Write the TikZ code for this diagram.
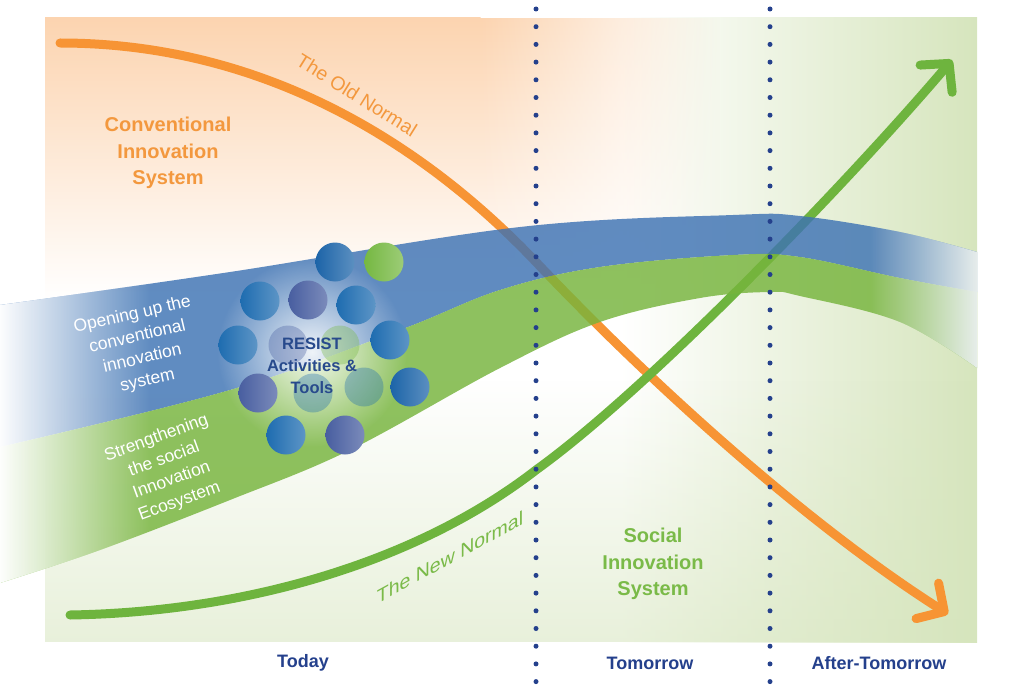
\documentclass[tikz,border=0pt]{standalone}
\usepackage{fontspec}
\setmainfont{Liberation Sans}
\usetikzlibrary{arrows.meta,fadings}

\definecolor{peach}{RGB}{252,212,176}
\definecolor{bgGreen}{RGB}{214,229,189}
\definecolor{bgEnd}{RGB}{232,238,236}
\definecolor{oldOrange}{RGB}{247,148,52}
\definecolor{txtOrange}{RGB}{243,152,62}
\definecolor{newGreen}{RGB}{110,180,62}
\definecolor{txtGreen}{RGB}{122,186,72}
\definecolor{bandBlue}{RGB}{62,115,180}
\definecolor{bandGreen}{RGB}{118,180,60}
\definecolor{navy}{RGB}{36,64,140}
\definecolor{resistBlue}{RGB}{40,74,140}
\definecolor{ballBlue}{RGB}{30,108,176}
\definecolor{ballDark}{RGB}{28,100,168}
\definecolor{ballSlate}{RGB}{72,94,160}
\definecolor{ballGreen}{RGB}{118,184,66}

\tikzfading[name=fadeRight, left color=transparent!0, right color=transparent!100]
\tikzfading[name=fadeLeft, left color=transparent!100, right color=transparent!0]
\tikzfading[name=fadeDown, top color=transparent!100, bottom color=transparent!45]
\tikzfading[name=haloFade, inner color=transparent!10, outer color=transparent!100]

\tikzset{
  oldTrend/.style={draw=oldOrange, line width=9pt, line cap=round,
                   -{Straight Barb[length=20pt,width=42pt,round]}},
  newTrend/.style={draw=newGreen, line width=9pt, line cap=round,
                   -{Straight Barb[length=20pt,width=42pt,round]}},
  band/.style={opacity=0.82},
  ball/.style={circle, inner sep=0pt, minimum size=39pt,
               left color=#1, right color=#1!72!white},
  faintBall/.style={circle, inner sep=0pt, minimum size=39pt,
                    fill=#1, fill opacity=0.35},
  sysLabel/.style={font=\fontsize{20}{26.5}\selectfont\bfseries, align=center},
  bandLabel/.style={font=\fontsize{17.5}{22.5}\selectfont, text=white, align=center},
  trendLabel/.style={font=\fontsize{19.5}{24}\selectfont},
  resistLabel/.style={font=\fontsize{16.5}{22}\selectfont\bfseries, text=resistBlue, align=center},
  timeLabel/.style={font=\fontsize{18}{22}\selectfont\bfseries, text=navy},
  divider/.style={draw=navy, line width=5pt, line cap=round, dash pattern=on 0pt off 17.7pt}
}

\begin{document}
\begin{tikzpicture}[x=1pt,y=-1pt]
\useasboundingbox (0,0) rectangle (1024,695);

% Background panel
\fill[white] (45,18) rectangle (977,642);
\shade[left color=white, right color=bgGreen] (620,18) rectangle (977,642);
\fill[bgGreen, path fading=fadeDown] (45,380) rectangle (977,642);
\shade[top color=peach, bottom color=white] (45,18) rectangle (480.5,300);
\shade[top color=peach, bottom color=white, path fading=fadeRight] (480,18) rectangle (720,300);

% Trend curves
\coordinate (oldStart) at (60,43);
\coordinate (oldMid) at (536,262);
\coordinate (oldEnd) at (948,614);
\draw[oldTrend] (oldStart) .. controls (260,43) and (420,140) .. (oldMid)
  .. controls (640,372) and (800,520) .. (oldEnd);

\coordinate (newStart) at (70,615);
\coordinate (newMid) at (536,470);
\coordinate (newEnd) at (952,60);
\draw[newTrend] (newStart) .. controls (250,612) and (420,560) .. (newMid)
  .. controls (650,388) and (850,180) .. (newEnd);

% Bands
\fill[bandBlue, band] plot[smooth, tension=0.6] coordinates {(0,305) (230,272) (520,227) (733,215) (800,216) (900,232) (977,252)}
  -- plot[smooth, tension=0.6] coordinates {(977,292) (900,278) (800,257) (733,255) (600,267) (500,290) (400,330) (230,390) (0,447)} -- cycle;
\fill[bandGreen, band] plot[smooth, tension=0.6] coordinates {(0,447) (230,390) (400,330) (500,290) (600,267) (733,255) (800,257) (900,278) (977,292)}
  -- plot[smooth, tension=0.6] coordinates {(977,368) (900,322) (800,296) (770,292) (700,298) (600,322) (500,368) (350,450) (230,500) (100,550) (0,583)} -- cycle;

% Band ends fade out
\begin{scope}
  \clip plot[smooth, tension=0.6] coordinates {(0,305) (230,272) (520,227) (733,215) (800,216) (900,232) (977,252)}
    -- plot[smooth, tension=0.6] coordinates {(977,368) (900,322) (800,296) (770,292) (700,298) (600,322) (500,368) (350,450) (230,500) (100,550) (0,583)} -- cycle;
  \fill[white, path fading=fadeRight] (-2,200) rectangle (150,600);
  \fill[bgEnd, path fading=fadeLeft] (870,200) rectangle (978,400);
\end{scope}

% RESIST cluster
\fill[white, path fading=haloFade] (312,352) circle (95);
\foreach \cx/\cy/\col [count=\i] in {335/262/ballDark, 384/262/ballGreen, 260/301/ballBlue,
    308/300/ballSlate, 356/305/ballBlue, 238/345/ballBlue, 390/340/ballBlue,
    258/393/ballSlate, 410/387/ballDark, 286/435/ballBlue, 345/435/ballSlate}
  \node[ball=\col] (c\i) at (\cx,\cy) {};
\node[faintBall=ballSlate] (f1) at (288,345) {};
\node[faintBall=ballGreen] (f2) at (340,345) {};
\node[faintBall=ballBlue] (f3) at (313,393) {};
\node[faintBall=ballBlue] (f4) at (364,387) {};

% Labels
\node[sysLabel, text=txtOrange] (convSys) at (168,153) {Conventional\\Innovation\\System};
\node[sysLabel, text=txtGreen] (socSys) at (653,564) {Social\\Innovation\\System};
\node[trendLabel, text=txtOrange, rotate=-32] (oldLbl) at (357,95) {The Old Normal};
\node[trendLabel, text=txtGreen, yslant=0.55] (newLbl) at (450,557) {The New Normal};
\node[bandLabel, rotate=13] (openLbl) at (140,348) {Opening up the\\conventional\\innovation\\system};
\node[bandLabel, rotate=20] (strongLbl) at (168,470) {Strengthening\\the social\\Innovation\\Ecosystem};
\node[resistLabel] (resist) at (312,366) {RESIST\\Activities \&\\Tools};

% Time dividers
\coordinate (divOneTop) at (536,9);
\coordinate (divOneBot) at (536,683);
\coordinate (divTwoTop) at (770,9);
\coordinate (divTwoBot) at (770,683);
\draw[divider] (divOneTop) -- (divOneBot);
\draw[divider] (divTwoTop) -- (divTwoBot);

\node[timeLabel] (today) at (303,663) {Today};
\node[timeLabel] (tomorrow) at (650,663) {Tomorrow};
\node[timeLabel] (afterTomorrow) at (879,663) {After-Tomorrow};

\end{tikzpicture}
\end{document}
